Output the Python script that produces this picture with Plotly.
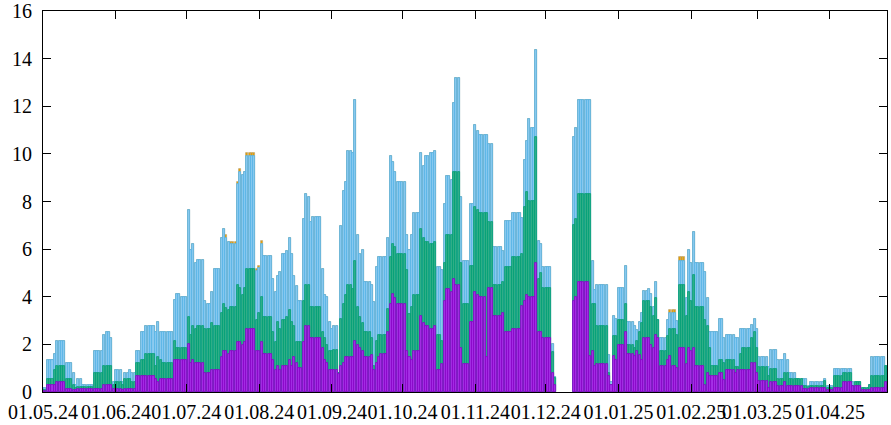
import numpy as np
import pandas as pd
import plotly.graph_objects as go

# Run-length encoded daily values (start 01.05.2024).
run_len = ([2,3,1,4,3,1,1,2,5,4,1,2,1,1,3,1,2,1,2,2,2,4,1,1,1,5,1,2,3]
           + [1,1,1,1,3,1,2,1,3,1,1,1,1,3,1,1,1,1,4,1,1,1,4,1,1,1,1,2,1,1,1,1,1,2]
           + [1,1,1,1,4,1,1,1,1,1,2]
           + [1,1,1,1,2,1,1,1,1,1,3,1,1,1,1,3,1,1,1,1,4,1,1,1,3,1,1,2,2,1,2]
           + [1,1,2,1,1,2,1,3,2,1,1,3,1,2,4,1,3,4,1,1,1,1,2,1,1,1,4,1,1]
           + [7]
           + [1,1,5,1,1,1,5,1,1,1,1,3,1,3,1,1,1,1,2,1,1,1,1,1,3,1,1,2,1,3,1,1,1,1,4]
           + [1,1,1,3,2,1,4,1,1,1,4,1,1,1,4,1,3,3,1,1,3,3,2,1,6,1,3,4,4,1,3,3,1,6,1])

blue_top = [.15,1.33,1.6,2.13,1.22,.81,.28,.55,.28,1.73,2.4,2.5,2.27,.4,.94,.42,.81,.94,.81,1.73,2.5,2.78,2.5,2.92,2.5,2.5,3.85,4.1,4.0,
            7.65,5.97,6.2,5.4,5.55,3.83,3.7,4.22,5.16,6.46,6.85,6.46,6.3,6.2,8.73,9.23,9.12,9.23,9.92,5.07,5.2,6.2,5.7,4.74,4.22,4.88,5.02,5.8,5.93,6.46,5.8,4.88,4.46,3.83,
            7.26,8.32,8.18,7.12,7.37,5.16,4.08,3.97,2.92,2.64,2.79,
            .8,6.98,8.45,8.84,10.14,10.03,12.27,6.6,5.8,5.95,4.62,4.48,3.8,5.27,5.69,5.69,6.46,9.89,9.64,9.22,8.84,6.6,5.95,6.6,7.51,10.03,9.5,9.89,10.03,10.14,5.27,
            5.13,7.9,9.09,8.9,12.13,13.2,8.18,5.52,7.9,11.2,10.94,10.8,10.8,10.4,6.07,5.92,7.2,7.51,7.3,9.75,10.56,11.45,11.08,14.36,6.35,6.21,5.27,2.0,.65,
            None,
            10.7,11.08,12.25,12.25,5.52,4.29,4.48,1.57,.4,3.18,3.07,4.37,5.3,2.92,2.78,2.62,2.92,3.32,4.25,4.34,4.12,3.57,4.62,3.04,2.27,3.04,3.32,3.32,3.0,5.52,3.95,5.95,5.41,6.74,5.41,
            5.02,3.95,2.5,2.5,3.05,2.27,2.41,2.27,2.27,2.64,2.64,2.83,3.06,2.64,1.47,1.05,1.75,1.36,1.61,1.36,.8,.55,.55,.27,.41,.55,.27,.97,.97,.41,.41,.17,.3,1.47,1.1]

green_top = [.1,.55,.94,1.08,.55,.28,.15,.2,.2,.81,1.08,1.08,1.08,.3,.42,.3,.55,.55,.42,1.2,1.33,1.6,1.08,1.47,1.33,1.2,2.13,1.86,1.86,
             3.17,2.4,2.78,2.64,2.78,2.64,2.64,2.9,2.78,3.31,3.7,3.52,3.45,3.56,4.5,4.36,4.08,4.36,5.16,3.04,3.3,3.99,3.17,2.5,2.12,2.92,2.64,3.04,3.17,3.45,2.92,2.78,2.12,2.12,
             3.83,4.5,4.5,3.56,3.56,2.5,2.27,1.99,1.73,1.73,1.78,
             .78,3.07,3.7,4.09,4.48,4.34,5.52,3.57,3.17,2.9,2.5,2.27,1.08,2.13,2.38,2.38,3.5,5.66,6.21,6.08,5.8,5.13,3.29,3.57,4.09,6.84,6.46,6.32,6.21,6.32,2.38,
             2.13,5.41,6.6,6.6,9.23,9.23,5.41,3.7,5.3,7.78,7.65,7.51,7.51,7.12,4.48,4.6,5.27,5.66,5.8,7.79,8.42,8.04,8.04,10.69,4.74,4.99,4.36,1.7,.6,
             None,
             7.0,7.26,8.31,8.31,3.7,3.7,2.78,.8,.3,2.37,2.37,3.04,3.7,1.99,1.85,2.13,2.5,2.9,3.83,3.83,3.57,3.18,3.95,3.04,1.71,2.37,2.65,2.65,2.4,4.48,3.18,4.22,3.83,4.9,3.57,
             3.04,2.78,1.85,1.08,1.33,1.22,1.33,1.05,1.05,1.61,1.85,2.27,2.5,1.85,1.05,.66,.97,.55,.8,.8,.55,.55,.27,.2,.27,.45,.17,.66,.8,.27,.41,.17,.3,.66,1.1]

purple_vals = [.05,.28,.3,.42,.14,.1,.1,.14,.14,.14,.28,.28,.28,.14,.14,.1,.14,.14,.14,.69,.69,.69,.55,.42,.55,.55,1.33,1.33,1.33,
               2.0,1.22,1.36,1.22,1.22,.8,.8,.94,.94,1.47,1.73,1.73,1.6,1.73,2.12,2.12,1.99,2.12,2.64,1.73,1.73,2.12,1.6,1.36,.94,1.08,.94,1.08,1.08,1.36,1.08,1.47,1.22,1.0,
               2.12,2.78,2.78,2.27,2.27,1.85,1.36,1.22,.94,.94,.94,
               .75,1.08,1.22,1.46,1.46,1.46,2.13,1.99,1.85,1.71,1.46,1.57,.94,1.22,1.46,1.6,2.5,3.7,4.13,3.95,3.7,1.71,1.46,1.33,1.71,3.18,2.9,2.79,2.65,2.76,.94,
               1.18,3.83,4.34,4.22,4.76,4.5,1.85,1.19,2.95,4.22,4.09,3.97,1.45,4.36,3.18,3.31,2.5,2.64,3.6,3.81,4.09,3.97,3.97,5.41,2.5,2.5,2.27,.8,.3,
               None,
               3.83,3.98,4.6,1.5,1.71,1.08,1.19,.69,.3,1.5,1.36,1.99,2.5,1.6,1.5,1.71,1.57,1.36,2.27,2.27,1.99,1.85,2.38,2.27,1.08,1.36,1.5,1.08,1.0,1.85,1.19,1.85,1.71,1.85,1.08,
               .3,.8,.69,.69,.8,.52,.94,.8,.94,.94,.94,1.22,1.22,.8,.45,.17,.41,.27,.41,.27,.27,.27,.13,.13,.17,.17,.1,.17,.41,.27,.27,.1,.1,.17,.41]

# top series (orange) only differs from the blue total on a few runs
orange_top = list(blue_top)
orange_fix = {40: 6.6, 42: 6.3, 43: 8.84, 44: 9.36, 47: 10.03, 48: 5.15, 49: 5.3, 50: 6.35,
              161: 3.46, 162: 3.46, 164: 5.66}
for i, v in orange_fix.items():
    orange_top[i] = v

n_runs = len(run_len)
assert len(blue_top) == n_runs and len(green_top) == n_runs and len(purple_vals) == n_runs

def expand(vals):
    out = []
    for c, v in zip(run_len, vals):
        out.extend([v] * c)
    return out

o = expand(orange_top)
b = expand(blue_top)
g = expand(green_top)
p = expand(purple_vals)
ndays = len(b)

start = pd.Timestamp("2024-05-01")
dates = [start + pd.Timedelta(days=i) for i in range(ndays)]

tick_dates = pd.date_range("2024-05-01", "2025-04-01", freq="MS")
tick_text = [d.strftime("%d.%m.%y") for d in tick_dates]

DAY = 86400000 * 0.86
font = dict(family="Liberation Serif, Times New Roman, serif", size=20, color="black")

fig = go.Figure()
series = [
    (o, "#e69f00", "rgba(190,165,110,0.9)"),
    (b, "#8ccbef", "#56b4e9"),
    (g, "#33b08a", "#009e73"),
    (p, "#a530e6", "#8c00c8"),
]
for ys, fill, line in series:
    fig.add_trace(go.Bar(x=dates, y=ys, width=DAY, marker=dict(color=fill, line=dict(color=line, width=0.8)),
                         showlegend=False, hoverinfo="skip"))

fig.update_layout(
    width=891, height=425,
    margin=dict(l=43, r=4, t=11, b=33, autoexpand=False),
    barmode="overlay", bargap=0,
    plot_bgcolor="white", paper_bgcolor="white",
    font=font,
)
fig.update_xaxes(
    type="date", automargin=False,
    range=[start - pd.Timedelta(hours=1), start + pd.Timedelta(days=359.3)],
    tickvals=tick_dates, ticktext=tick_text, tickangle=0,
    showline=True, linecolor="black", linewidth=1, mirror="ticks",
    ticks="inside", ticklen=8, tickcolor="black", showgrid=False, zeroline=False,
    tickfont=font, ticklabelstandoff=2,
)
fig.update_yaxes(
    automargin=False,
    range=[0, 16], tickvals=list(range(0, 17, 2)),
    showline=True, linecolor="black", linewidth=1, mirror="ticks",
    ticks="inside", ticklen=8, tickcolor="black", showgrid=False, zeroline=False,
    tickfont=font, ticklabelstandoff=6,
)
fig.write_html("out.html", config={"displayModeBar": False},
               post_script="document.body.style.margin='0';document.body.style.overflow='hidden';")
